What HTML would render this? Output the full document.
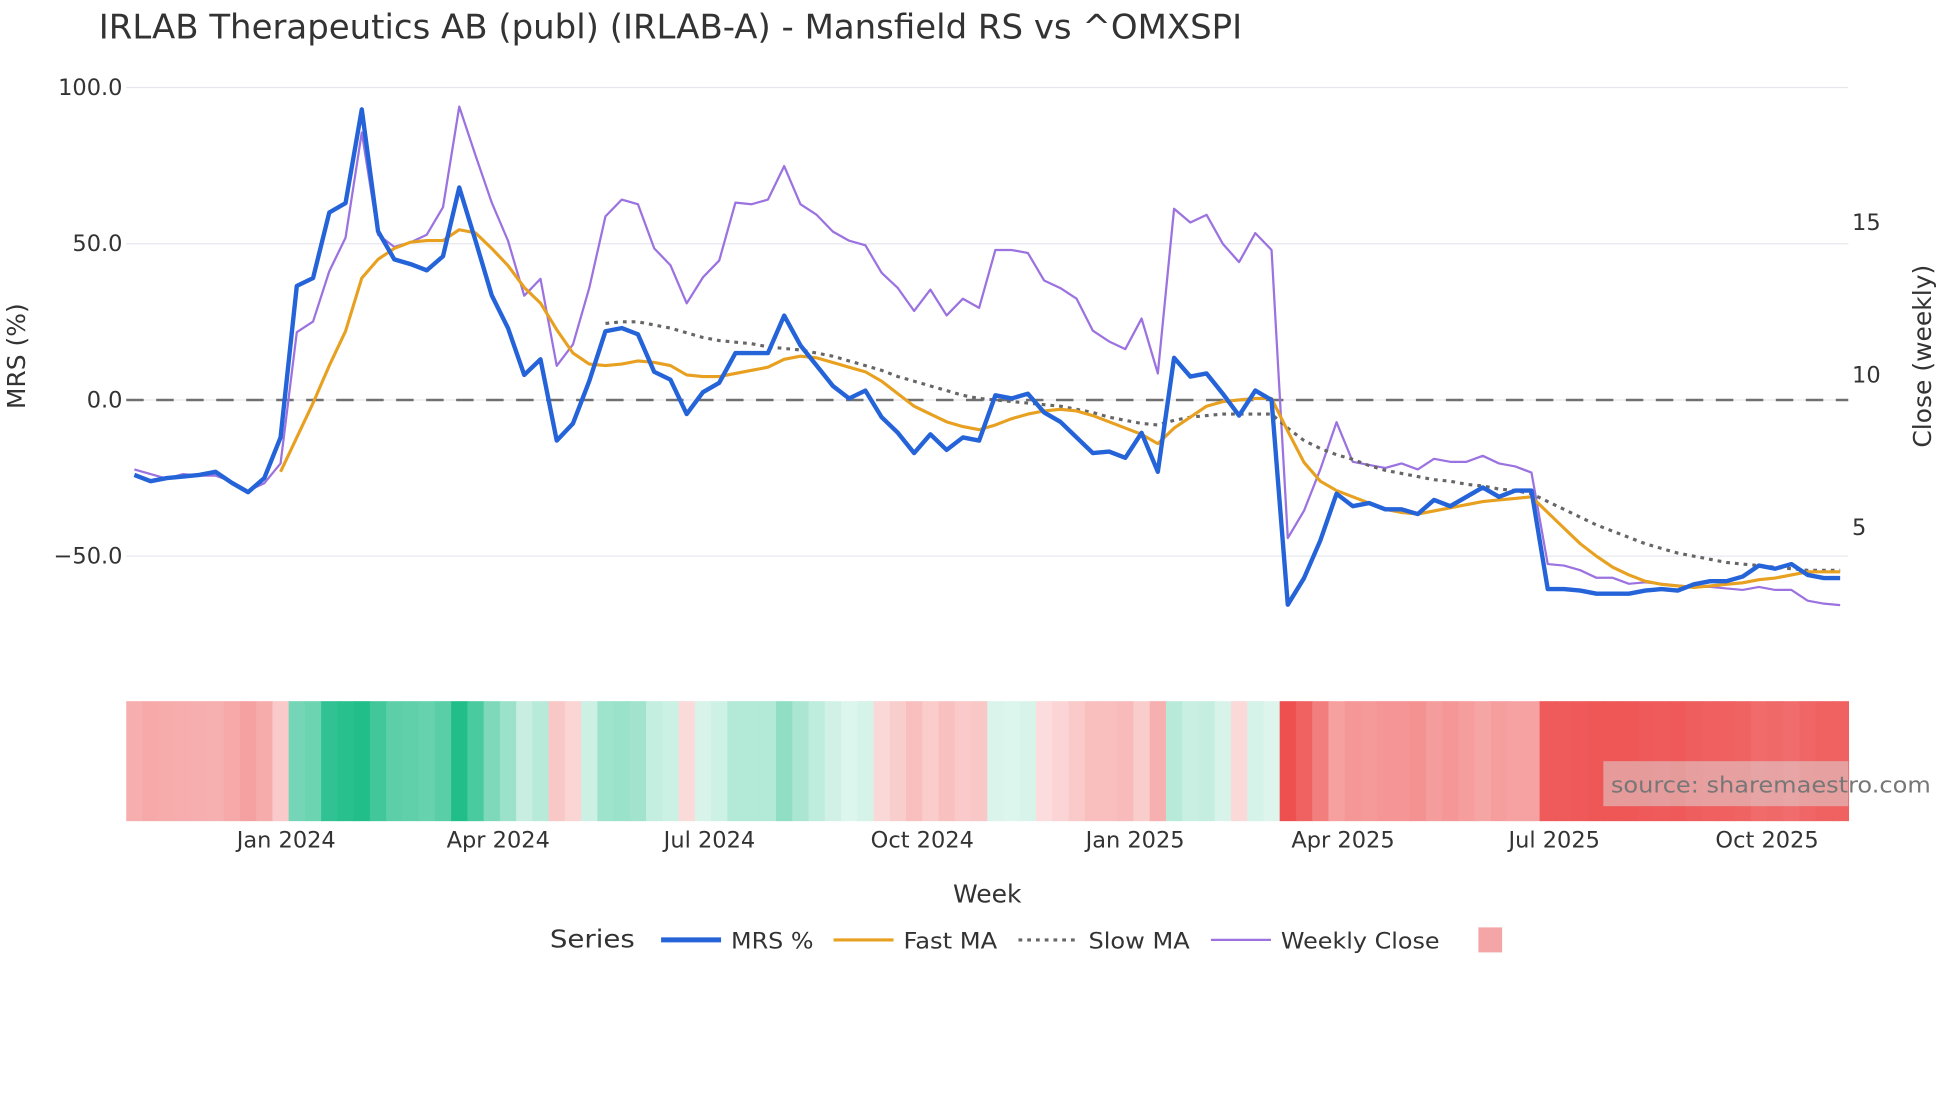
<!DOCTYPE html>
<html><head><meta charset="utf-8"><style>
html,body{margin:0;padding:0;background:#fff;}
svg{display:block;font-family:"DejaVu Sans","Liberation Sans",sans-serif;}
</style></head><body>
<svg id="chart" width="1960" height="1102" viewBox="0 0 1568.4 881.7" preserveAspectRatio="none" xmlns="http://www.w3.org/2000/svg">
<rect x="0" y="0" width="1570" height="884" fill="#fff"/>
<text x="79" y="31" font-size="27" fill="#333" textLength="915" lengthAdjust="spacingAndGlyphs">IRLAB Therapeutics AB (publ) (IRLAB-A) - Mansfield RS vs ^OMXSPI</text>
<g id="grid"></g>
<g id="heat"></g>
<g id="series"></g>
<g id="axes"></g>
<text transform="translate(20,285) rotate(-90)" text-anchor="middle" font-size="20" fill="#333">MRS (%)</text>
<text transform="translate(1545,285) rotate(-90)" text-anchor="middle" font-size="20" fill="#333">Close (weekly)</text>
<text x="790" y="722" text-anchor="middle" font-size="20" fill="#333">Week</text>
<rect x="1283" y="609" width="196" height="36" fill="#ddd" fill-opacity="0.5"/>
<text x="1289" y="634" font-size="18" fill="#777" textLength="256" lengthAdjust="spacingAndGlyphs">source: sharemaestro.com</text>
<g>
<text x="440" y="758" font-size="20" fill="#333" textLength="68" lengthAdjust="spacingAndGlyphs">Series</text>
<g><line x1="529" y1="752" x2="577" y2="752" stroke="#2563d9" stroke-width="4"/><text x="585" y="759" font-size="17.5" fill="#333" textLength="66" lengthAdjust="spacingAndGlyphs">MRS %</text></g>
<g><line x1="667" y1="752" x2="715" y2="752" stroke="#e8a020" stroke-width="2.5"/><text x="723" y="759" font-size="17.5" fill="#333" textLength="75" lengthAdjust="spacingAndGlyphs">Fast MA</text></g>
<g><line x1="815" y1="752" x2="863" y2="752" stroke="#666" stroke-width="2.5" stroke-dasharray="3,4"/><text x="871" y="759" font-size="17.5" fill="#333" textLength="81" lengthAdjust="spacingAndGlyphs">Slow MA</text></g>
<g><line x1="969" y1="752" x2="1017" y2="752" stroke="#9b72e0" stroke-width="1.8"/><text x="1025" y="759" font-size="17.5" fill="#333" textLength="127" lengthAdjust="spacingAndGlyphs">Weekly Close</text></g>
<rect x="1183" y="742" width="19" height="20" fill="#f4a6a6"/>
</g>
</svg>
<script>
const mrs=[-24,-26,-25,-24.5,-24,-23,-26.5,-29.5,-25,-12,36.5,39,60,63,93,54,45,43.5,41.5,46,68,51,33.5,23,8,13,-13,-7.5,6,22,23,21,9,6.5,-4.5,2.5,5.5,15,15,15,27,17.5,11,4.5,0.5,3,-5.5,-10.5,-17,-11,-16,-12,-13,1.5,0.5,2,-4,-7,-12,-17,-16.5,-18.5,-10.5,-23,13.5,7.5,8.5,2,-5,3,0,-65.5,-57,-45,-30,-34,-33,-35,-35,-36.5,-32,-34,-31,-28,-31,-29,-29,-60.5,-60.5,-61,-62,-62,-62,-61,-60.5,-61,-59,-58,-58,-56.5,-53,-54,-52.5,-56,-57,-57];
const closeW=[6.9,6.75,6.6,6.75,6.7,6.7,6.5,6.2,6.45,7.1,11.4,11.75,13.4,14.5,17.95,14.6,14.2,14.35,14.6,15.5,18.8,17.2,15.65,14.4,12.6,13.15,10.3,11.0,12.85,15.2,15.75,15.6,14.15,13.6,12.35,13.2,13.75,15.65,15.6,15.75,16.85,15.6,15.25,14.7,14.4,14.25,13.35,12.85,12.1,12.8,11.95,12.5,12.2,14.1,14.1,14.0,13.1,12.85,12.5,11.45,11.1,10.85,11.85,10.05,15.45,15.0,15.25,14.3,13.7,14.65,14.1,4.65,5.55,6.9,8.45,7.15,7.05,6.95,7.1,6.9,7.25,7.15,7.15,7.35,7.1,7.0,6.8,3.8,3.75,3.6,3.35,3.35,3.15,3.2,3.15,3.1,3.05,3.05,3.0,2.95,3.05,2.95,2.95,2.6,2.5,2.45];
const fastMA=[null,null,null,null,null,null,null,null,null,-23,-12,-1,11,22,39,45,48.5,50.5,51,51,54.5,53.5,48.5,43,36,31,22.5,15,11.5,11,11.5,12.5,12,11,8,7.5,7.5,8.5,9.5,10.5,13,14,13.5,12,10.5,9,6,2,-2,-4.5,-7,-8.5,-9.5,-8,-6,-4.5,-3.5,-3,-3.5,-5,-7,-9,-11,-14,-9,-5.5,-2,-0.5,0,0.5,0.5,-10,-20,-26,-29,-31,-33,-35,-36,-36.5,-35.5,-34.5,-33.5,-32.5,-32,-31.5,-31,-36,-41,-46,-50,-53.5,-56,-58,-59,-59.5,-60,-59.5,-59,-58.5,-57.5,-57,-56,-55,-55,-55];
const slowMA=[null,null,null,null,null,null,null,null,null,null,null,null,null,null,null,null,null,null,null,null,null,null,null,null,null,null,null,null,null,24.5,25,25,24,23,21.5,20,19,18.5,18,17,16.5,16,15,14,12.5,11,9.5,7.5,6,4.5,3,1.5,0.5,0,-0.5,-1,-1.5,-2,-3,-4,-5.5,-6.5,-7.5,-8,-6.5,-5.5,-5,-4.5,-4.5,-4.5,-4.5,-9,-13,-15.5,-17.5,-19,-21,-22.5,-23.5,-24.5,-25.5,-26,-27,-27.5,-28.5,-29,-30,-32.5,-35,-37.5,-40,-42,-44,-46,-47.5,-49,-50,-51,-52,-52.5,-53,-53.5,-54,-54.5,-54.5,-54.5];
const xTickLabels=["Jan 2024","Apr 2024","Jul 2024","Oct 2024","Jan 2025","Apr 2025","Jul 2025","Oct 2025"];
const xTickWeeks=[9.35,22.4,35.4,48.5,61.6,74.4,87.4,100.5];
const yTicks=[100,50,0,-50];
const y2Ticks=[15,10,5];

const NS="http://www.w3.org/2000/svg";
const X0=101,X1=1479;
const xs=i=>X0+(X1-X0)*(i+0.5)/mrs.length;
const ys=v=>320-2.5*v;
const ys2=c=>544-24.4*c;
function mk(tag,attrs,parent){const e=document.createElementNS(NS,tag);for(const k in attrs)e.setAttribute(k,attrs[k]);parent.appendChild(e);return e;}
const grid=document.getElementById('grid'),heat=document.getElementById('heat'),ser=document.getElementById('series'),axes=document.getElementById('axes');
yTicks.forEach(v=>{
  const l=mk('line',{x1:X0,x2:X1,y1:ys(v),y2:ys(v),stroke:'#e6e8ee','stroke-width':1},grid);
  
  
  const t=mk('text',{x:98,y:ys(v)+6,'text-anchor':'end','font-size':18,fill:'#333'},axes);
  t.textContent=(v<0?'\u2212':'')+Math.abs(v).toFixed(1);
  
  
});
y2Ticks.forEach(v=>{
  const t=mk('text',{x:1482,y:ys2(v)+6,'font-size':18,fill:'#333'},axes);
  t.textContent=v;
  
  
});
const zl=mk('line',{x1:X0,x2:X1,y1:ys(0),y2:ys(0),stroke:'#707070','stroke-width':2,'stroke-dasharray':'14,10'},grid);


const cw=(X1-X0)/mrs.length;
function heatColor(v){
  const a=Math.min(Math.abs(v)/65,1);
  const c=v>=0?[34,190,138]:[238,80,80];
  const m=0.15+0.85*a;
  return `rgb(${Math.round(255+(c[0]-255)*m)},${Math.round(255+(c[1]-255)*m)},${Math.round(255+(c[2]-255)*m)})`;
}
mrs.forEach((v,i)=>{
  const r=mk('rect',{x:X0+i*cw,y:561,width:cw+0.6,height:96,fill:heatColor(v)},heat);
  
  
});
xTickLabels.forEach((lab,k)=>{
  const t=mk('text',{x:xs(xTickWeeks[k]),y:678,'text-anchor':'middle','font-size':18,fill:'#333'},axes);
  t.textContent=lab;
  
  
});
function path(arr,f){let d='',pen=false;arr.forEach((v,i)=>{if(v===null){pen=false;return;}d+=(pen?'L':'M')+xs(i).toFixed(1)+','+f(v).toFixed(1);pen=true;});return d;}
const pc=mk('path',{d:path(closeW,ys2),fill:'none',stroke:'#9b72e0','stroke-width':1.8,'stroke-linejoin':'round'},ser);


const ps=mk('path',{d:path(slowMA,ys),fill:'none',stroke:'#666','stroke-width':2.5,'stroke-dasharray':'3,4'},ser);


const pf=mk('path',{d:path(fastMA,ys),fill:'none',stroke:'#e8a020','stroke-width':2.5,'stroke-linejoin':'round'},ser);


const pm=mk('path',{d:path(mrs,ys),fill:'none',stroke:'#2563d9','stroke-width':3.5,'stroke-linejoin':'round'},ser);


</script>
</body></html>
